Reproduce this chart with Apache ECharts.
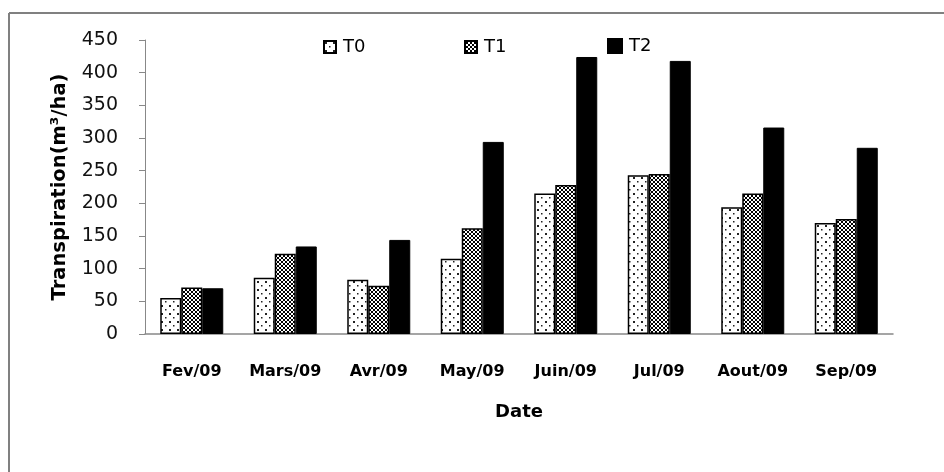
<!DOCTYPE html>
<html>
<head>
<meta charset="utf-8">
<script src="https://cdn.jsdelivr.net/npm/echarts@6/dist/echarts.min.js"></script>
<style>html,body{margin:0;padding:0;background:#fff}#c{width:944px;height:472px}</style>
</head>
<body>
<div id="c"></div>
<script>
var categories = ['Fev/09','Mars/09','Avr/09','May/09','Juin/09','Jul/09','Aout/09','Sep/09'];
var seriesNames = ['T0','T1','T2'];
var t0Values = [55, 86, 83, 115, 215, 243, 194, 170];
var t1Values = [71, 123, 74, 162, 228, 245, 215, 176];
var t2Values = [70, 134, 144, 294, 424, 418, 316, 285];
var yTicks = [0,50,100,150,200,250,300,350,400,450];

function dotPattern(){
  var c=document.createElement('canvas');c.width=8;c.height=8;
  var g=c.getContext('2d');g.fillStyle='#fff';g.fillRect(0,0,8,8);
  g.fillStyle='#222';g.fillRect(1,1,2,2);g.fillRect(5,5,1.5,1.5);
  return c;
}
function hatchPattern(){
  var c=document.createElement('canvas');c.width=4;c.height=4;
  var g=c.getContext('2d');g.fillStyle='#fff';g.fillRect(0,0,4,4);
  g.fillStyle='#000';
  [[0,0],[1,1],[2,2],[3,3],[3,0],[2,1],[1,2],[0,3]].forEach(function(p){g.fillRect(p[0],p[1],1,1);});
  return c;
}
var FONT='DejaVu Sans';
var chart=echarts.init(document.getElementById('c'),null,{renderer:'canvas'});
var pat0={image:dotPattern(),repeat:'repeat'};
var pat1={image:hatchPattern(),repeat:'repeat'};
function legend(name,left,size){
  return {data:[name],left:left,top:44-size/2,itemWidth:size,itemHeight:size,itemGap:0,padding:0,icon:'rect',
    textStyle:{fontFamily:FONT,fontSize:18,color:'#000',padding:[0,0,0,2]}};
}
chart.setOption({
  animation:false,
  backgroundColor:'#fff',
  textStyle:{fontFamily:FONT},
  graphic:[
    {type:'line',shape:{x1:9,y1:13,x2:944,y2:13},style:{stroke:'#808080',lineWidth:2}},
    {type:'line',shape:{x1:9,y1:13,x2:9,y2:472},style:{stroke:'#808080',lineWidth:2}}
  ],
  legend:[legend('T0',323,12),legend('T1',464,12),legend('T2',607,14)],
  grid:{left:145,right:51,top:40,bottom:138},
  xAxis:{type:'category',data:categories,
    axisLine:{lineStyle:{color:'#888',width:1.5}},axisTick:{show:false},
    axisLabel:{interval:0,hideOverlap:false,margin:30,fontSize:16,fontWeight:'bold',color:'#000',fontFamily:FONT},
    name:'Date',nameLocation:'middle',nameGap:69,
    nameTextStyle:{fontSize:18,fontWeight:'bold',color:'#000',fontFamily:FONT}},
  yAxis:{type:'value',min:yTicks[0],max:yTicks[yTicks.length-1],interval:yTicks[1]-yTicks[0],
    splitLine:{show:false},
    axisLine:{show:true,lineStyle:{color:'#888',width:1}},
    axisTick:{show:true,length:6,lineStyle:{color:'#888'}},
    axisLabel:{margin:27,fontSize:19,color:'#111',fontFamily:FONT},
    name:'Transpiration(m³/ha)',nameLocation:'middle',nameGap:75,
    nameTextStyle:{fontSize:19.5,fontWeight:'bold',color:'#000',fontFamily:FONT}},
  series:[
    {name:seriesNames[0],type:'bar',data:t0Values,barWidth:21,barGap:'0%',
     itemStyle:{color:pat0,borderColor:'#000',borderWidth:1.5}},
    {name:seriesNames[1],type:'bar',data:t1Values,barWidth:21,barGap:'0%',
     itemStyle:{color:pat1,borderColor:'#000',borderWidth:1.5}},
    {name:seriesNames[2],type:'bar',data:t2Values,barWidth:21,barGap:'0%',
     itemStyle:{color:'#000',borderColor:'#000',borderWidth:1}}
  ]
});
</script>
</body>
</html>
